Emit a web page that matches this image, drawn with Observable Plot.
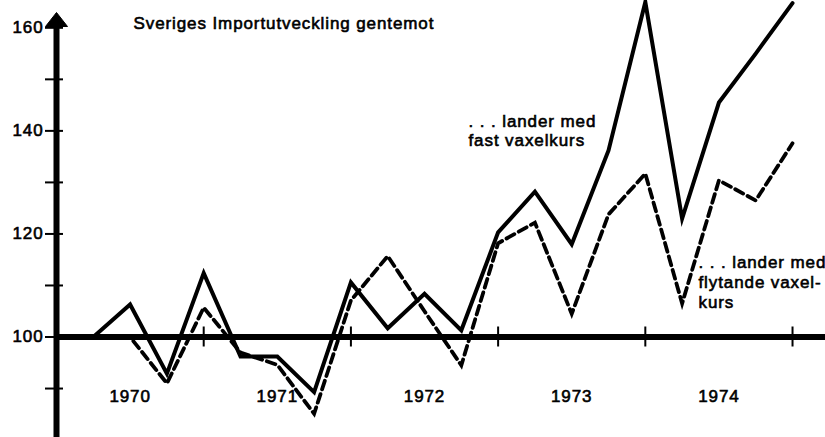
<!DOCTYPE html>
<html>
<head>
<meta charset="utf-8">
<script src="https://cdn.jsdelivr.net/npm/d3@7"></script>
<script src="https://cdn.jsdelivr.net/npm/@observablehq/plot@0.6"></script>
<style>
  html, body { margin: 0; padding: 0; background: #fff; }
  svg text { stroke: #000; stroke-width: 0.6px; }
</style>
</head>
<body>
<div id="chart"></div>
<script>
// Quarterly observations (end of quarter), 1970 Q1 – 1974 Q4
const years = [1970, 1971, 1972, 1973, 1974];
const quarters = [1, 2, 3, 4];
// Import development vs countries with fixed exchange rate (solid)
const fastKurs = [100, 106.3, 92.9, 112.4, 96.2, 96.2, 89.3, 110.6, 101.7, 108.4,
                  101.3, 120.3, 128.2, 118.0, 136.2, 165.0, 123.0, 145.5, 155.0, 164.8];
// ... vs countries with floating exchange rate (dashed)
const flytandeKurs = [100, 100, 91.0, 105.7, 97.0, 94.6, 85.1, 107.1, 115.7, 105.0,
                      94.5, 118.2, 122.2, 104.5, 123.8, 131.7, 106.5, 130.4, 126.5, 137.6];
const yTickValues = [90, 100, 110, 120, 130, 140, 150, 160];
const yTickLabels = [100, 120, 140, 160];
const yearBoundaries = [1971, 1972, 1973, 1974, 1975];
const titleText = "Sveriges Importutveckling gentemot";
const fastLabel = ". . . lander med\nfast vaxelkurs";
const flytLabel = ". . . lander med\nflytande vaxel-\nkurs";

const periods = years.flatMap(y => quarters.map(q => y + q / 4));
const fastData = periods.map((t, i) => ({t, v: fastKurs[i]}));
const flytData = periods.map((t, i) => ({t, v: flytandeKurs[i]}));

const arrowHead = {
  draw(context) {
    context.moveTo(0, -8);
    context.lineTo(11, 6);
    context.lineTo(-11, 6);
    context.closePath();
  }
};

const FS = 17;
const chart = Plot.plot({
  width: 825,
  height: 437,
  marginLeft: 56,
  marginRight: 0,
  marginTop: 0,
  marginBottom: 0,
  x: {domain: [1970, 1975.224]},
  y: {domain: [80.5, 165.3]},
  style: {
    background: "white",
    fontFamily: "'Liberation Sans', Arial, Helvetica, sans-serif",
    fontSize: FS + "px",
    letterSpacing: "0.9px",
    color: "black",
    overflow: "hidden"
  },
  marks: [
    Plot.axisY(yTickValues, {tickSize: 18, dx: 7, tickFormat: () => "", strokeWidth: 2, label: null}),
    Plot.axisY(yTickLabels, {tickSize: 0, tickPadding: 13, fontSize: FS, label: null}),
    Plot.axisX(yearBoundaries, {anchor: "bottom", tickSize: 20, dy: -110.5, tickFormat: () => "", strokeWidth: 2, label: null}),
    Plot.ruleY([100], {strokeWidth: 6, stroke: "black"}),
    Plot.ruleX([1970], {strokeWidth: 6, stroke: "black", insetTop: 20}),
    Plot.dot([0], {frameAnchor: "top-left", dy: 20, symbol: arrowHead, fill: "black", stroke: "black", strokeWidth: 1, r: 1}),
    Plot.text(years, {x: d => d + 0.5, text: d => String(d), frameAnchor: "bottom", dy: -36, fontSize: FS}),
    Plot.line(flytData, {x: "t", y: "v", stroke: "black", strokeWidth: 3.8, strokeDasharray: "9,5", strokeLinejoin: "miter", strokeMiterlimit: 10}),
    Plot.line(fastData, {x: "t", y: "v", stroke: "black", strokeWidth: 4, strokeLinejoin: "miter", strokeMiterlimit: 10}),
    Plot.text([titleText], {text: d => d, frameAnchor: "top-left", textAnchor: "start", lineAnchor: "top", dx: 77, dy: 16, fontSize: FS}),
    Plot.text([fastLabel], {text: d => d, frameAnchor: "top-left", textAnchor: "start", lineAnchor: "top", dx: 412, dy: 113, fontSize: FS, lineHeight: 1.12}),
    Plot.text([flytLabel], {text: d => d, frameAnchor: "top-left", textAnchor: "start", lineAnchor: "top", dx: 642, dy: 253, fontSize: FS, lineHeight: 1.18})
  ]
});
document.getElementById("chart").appendChild(chart);
</script>
</body>
</html>
